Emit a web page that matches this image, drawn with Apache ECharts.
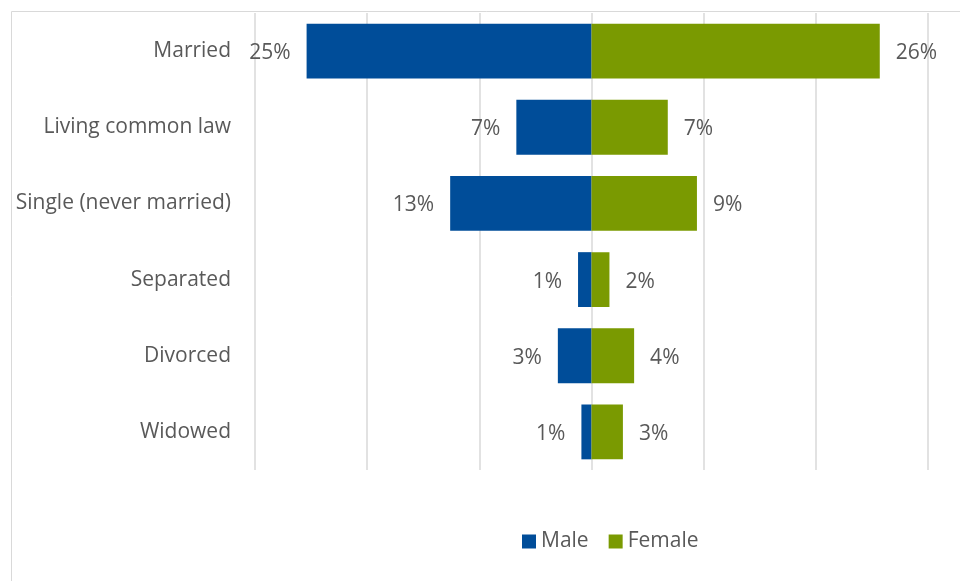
<!DOCTYPE html>
<html>
<head>
<meta charset="utf-8">
<script src="https://cdn.jsdelivr.net/npm/echarts@6/dist/echarts.min.js"></script>
<style>
  html, body { margin: 0; padding: 0; background: #fff; }
  #chart { width: 960px; height: 581px; }
</style>
</head>
<body>
<div id="chart"></div>
<script>
  var categories = ["Married", "Living common law", "Single (never married)", "Separated", "Divorced", "Widowed"];
  var maleShare = [25.4, 6.7, 12.6, 1.2, 3.0, 0.9];
  var femaleShare = [25.7, 6.8, 9.4, 1.6, 3.8, 2.8];
  var maleLabels = ["25%", "7%", "13%", "1%", "3%", "1%"];
  var femaleLabels = ["26%", "7%", "9%", "2%", "4%", "3%"];

  var textColor = "#595959";
  var font = "Open Sans";
  var fs = 21;

  var chart = echarts.init(document.getElementById("chart"));
  chart.setOption({
    animation: false,
    textStyle: { fontFamily: font },
    graphic: [{
      type: "rect",
      shape: { x: 11.5, y: 11.5, width: 960, height: 600 },
      style: { fill: "none", stroke: "#d9d9d9", lineWidth: 1 },
      silent: true
    }],
    legend: {
      top: 526,
      left: 517,
      itemWidth: 14,
      itemHeight: 14,
      itemGap: 20,
      icon: "rect",
      textStyle: { color: textColor, fontSize: fs, fontFamily: font },
      data: ["Male", "Female"]
    },
    grid: { left: 255, right: 32, top: 13, bottom: 111, containLabel: false },
    xAxis: {
      type: "value",
      min: -30,
      max: 30,
      interval: 10,
      axisLabel: { show: false },
      axisLine: { show: false },
      axisTick: { show: false },
      splitLine: { show: true, lineStyle: { color: "#d9d9d9", width: 1.5 } }
    },
    yAxis: {
      type: "category",
      inverse: true,
      data: categories,
      axisLine: { show: false },
      axisTick: { show: false },
      axisLabel: { color: textColor, fontSize: fs, margin: 24, fontFamily: font, padding: [4, 0, 0, 0] }
    },
    series: [
      {
        name: "Male",
        type: "bar",
        stack: "total",
        barWidth: "72%",
        itemStyle: { color: "#004D99" },
        label: {
          show: true,
          position: "left",
          distance: 16,
          offset: [0, 2],
          color: textColor,
          fontSize: fs,
          fontFamily: font,
          formatter: function (p) { return maleLabels[p.dataIndex]; }
        },
        data: maleShare.map(function (v) { return -v; })
      },
      {
        name: "Female",
        type: "bar",
        stack: "total",
        barWidth: "72%",
        itemStyle: { color: "#7A9A01" },
        label: {
          show: true,
          position: "right",
          distance: 16,
          offset: [0, 2],
          color: textColor,
          fontSize: fs,
          fontFamily: font,
          formatter: function (p) { return femaleLabels[p.dataIndex]; }
        },
        data: femaleShare
      }
    ]
  });
</script>
</body>
</html>
